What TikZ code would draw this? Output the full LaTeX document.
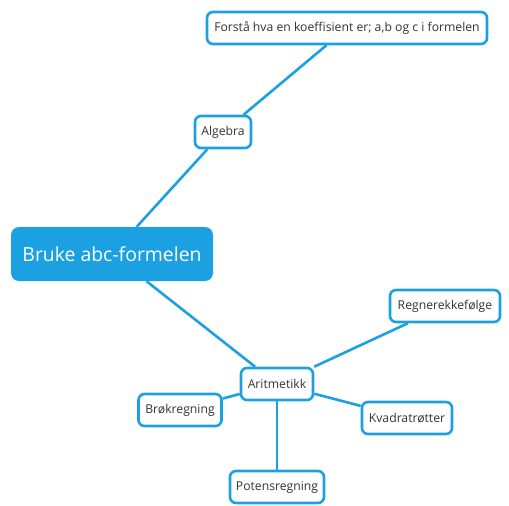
\documentclass[tikz,border=0pt]{standalone}
\usepackage{fontspec}
\setmainfont{Open Sans}
\usepackage{xcolor}
\usetikzlibrary{positioning}
\definecolor{mapblue}{HTML}{1BA1E2}
\definecolor{maptext}{HTML}{333333}

\begin{document}
\begin{tikzpicture}[x=1pt,y=-1pt,% map styles
			every node/.style={
				align=center,
				font=\fontsize{12.2}{14}\selectfont
			},
			topic/.style={rectangle,rounded corners=6pt,line width=2.6pt,draw=mapblue,fill=white,text=maptext,minimum height=32pt,inner xsep=5pt},
			mainidea/.style={rectangle,rounded corners=8pt,fill=mapblue,text=white,minimum width=202pt,minimum height=54pt,font=\fontsize{19.4}{22}\selectfont},
			every edge/.style={draw=mapblue,line width=2.6pt}
		]
		\useasboundingbox (0,0) rectangle (509,506);
		\node[mainidea](M) at (112,254){Bruke abc-formelen};
		\node[topic,minimum width=56pt](A) at (223,132){Algebra};
		\node[topic,minimum width=280pt](K) at (347,28){Forstå hva en koeffisient er; a,b og c i formelen};
		\node[topic,minimum width=72pt](R) at (277,384){Aritmetikk};
		\node[topic,minimum width=110pt](F) at (445,306){Regnerekkefølge};
		\node[topic,minimum width=90pt](Q) at (407,418){Kvadratrøtter};
		\node[topic,minimum width=83pt](B) at (180,410){Brøkregning};
		\node[topic,minimum width=94pt](P) at (277,487){Potensregning};
		\path
		(M)edge [] (A)
		(A)edge [] (K)
		(M)edge [] (R)
		(R)edge [] (F)
		(R)edge [] (Q)
		(R)edge [] (B)
		(R)edge [] (P)
		;
	\end{tikzpicture}
\end{document}
